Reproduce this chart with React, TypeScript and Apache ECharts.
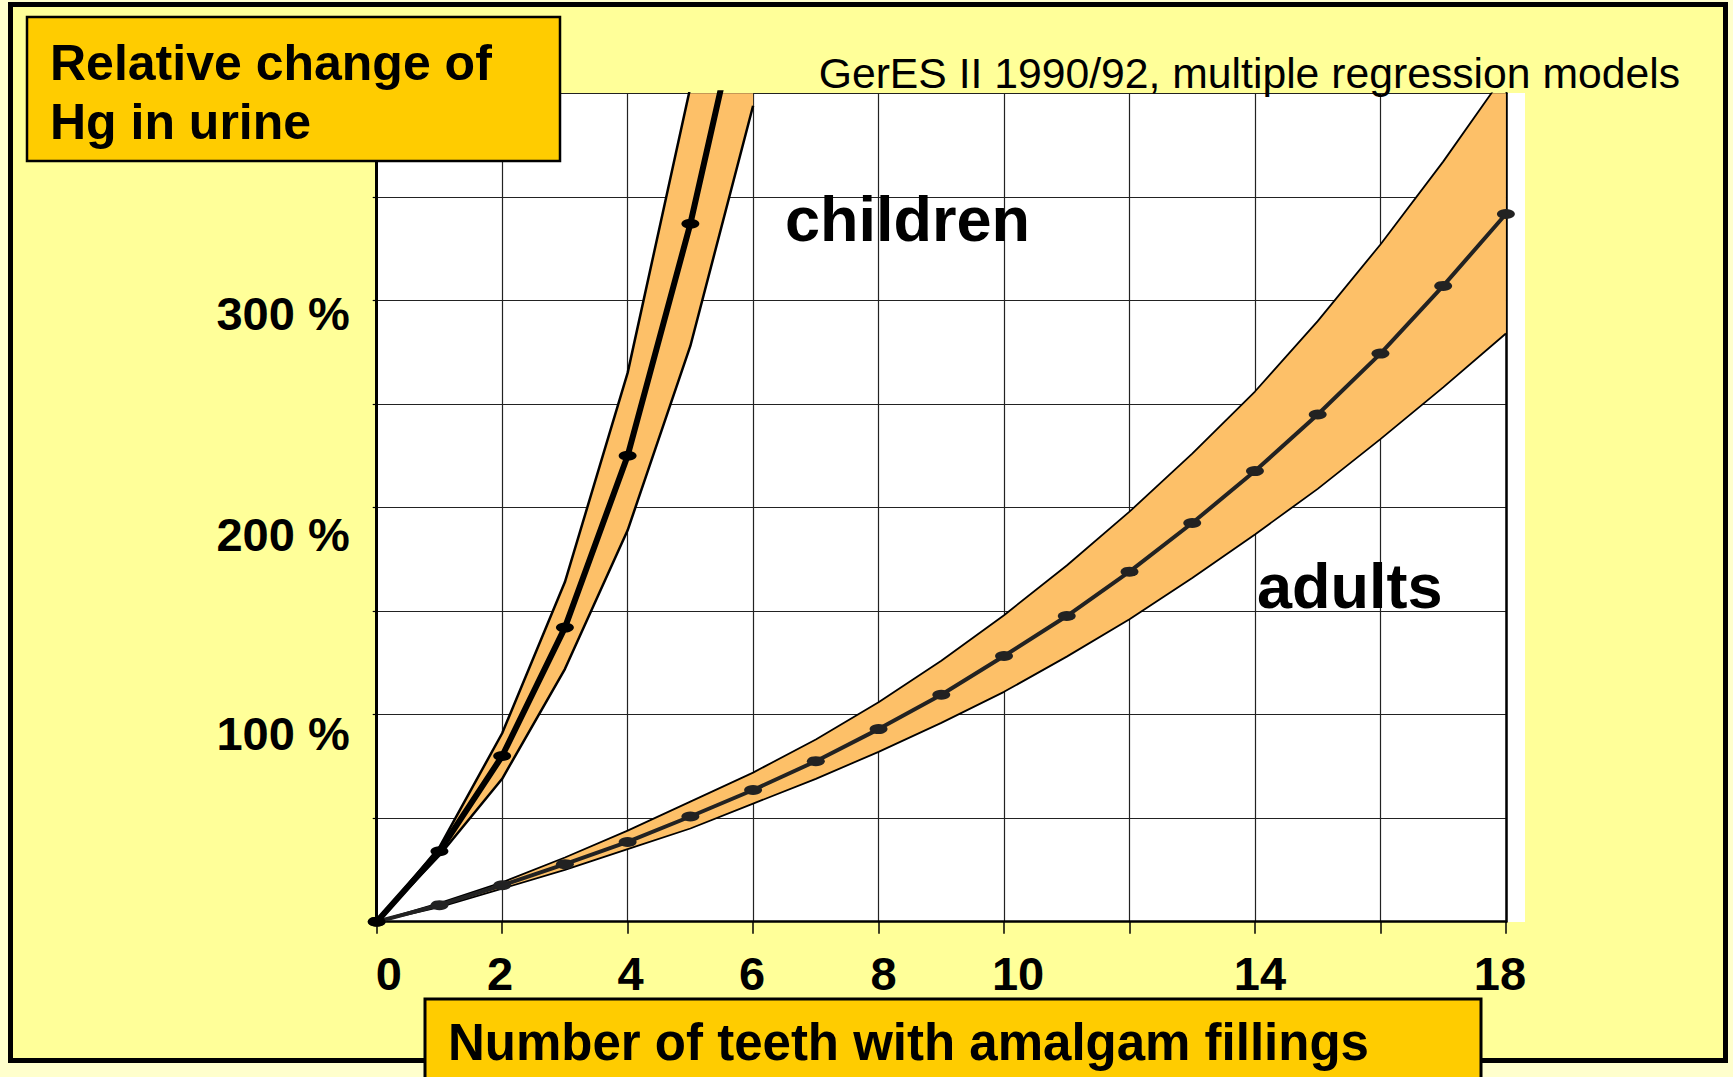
import React, { useEffect, useRef } from "react";
import * as echarts from "echarts";

// ---- data ----
const childX = [0, 1, 2, 3, 4, 5, 6];
const childCentral = [0, 34, 80, 142, 225, 337, 471];
const childUpper = [0, 36, 91, 164, 265, 403, 560];
const childLower = [0, 32, 69, 122, 189, 278, 394];

const adultX = [0, 1, 2, 3, 4, 5, 6, 7, 8, 9, 10, 11, 12, 13, 14, 15, 16, 17, 18];
const adultCentral = [0, 8, 17.6, 27.8, 38.5, 50.8, 63.6, 77.5, 93, 109.6, 128.3, 147.6, 169, 192.5, 217.6, 244.9, 274.3, 307, 341.7];
const adultUpper = [0, 9, 19, 31, 44, 58, 72, 88, 106, 126, 148, 172, 198, 226, 256, 290, 327, 367, 410];
const adultLower = [0, 7, 16, 25, 35, 45, 57, 69, 82, 96, 111, 128, 146, 166, 187, 209, 233, 258, 284];

const xTickLabels = [0, 2, 4, 6, 8, 10, 14, 18];
const yTickLabels = [100, 200, 300];

const titleText = "Relative change of\nHg in urine";
const subtitleText = "GerES II 1990/92, multiple regression models";
const xTitleText = "Number of teeth with amalgam fillings";
const childrenLabel = "children";
const adultsLabel = "adults";

// ---- styles ----
const FONT = "'Liberation Sans', Arial, Helvetica, sans-serif";
const BAND = "#FDC068";

// horizontal nudges of x labels (px), vertical nudges of y labels (px)
const xNudge: Record<number, number> = { 0: 12, 2: -2, 4: 3, 6: -1, 8: 5, 10: 14, 14: 5, 18: -6 };
const yNudge: Record<number, number> = { 100: 19, 200: 27, 300: 13 };

function pairs(xs: number[], ys: number[]) {
  return xs.map((x, i) => [x, ys[i]]);
}

function bandSeries(name: string, xs: number[], hi: number[], lo: number[], z: number) {
  return {
    name,
    type: "custom",
    clip: true,
    z,
    silent: true,
    data: [[xs[0], lo[0]]],
    renderItem: (_params: any, api: any) => {
      const top = xs.map((x, i) => api.coord([x, hi[i]]));
      const bottom = xs.map((x, i) => api.coord([x, lo[i]])).reverse();
      return {
        type: "polygon",
        shape: { points: top.concat(bottom) },
        style: { fill: BAND, stroke: null },
      };
    },
  };
}

function edgeSeries(name: string, xs: number[], ys: number[], width: number, z: number) {
  return {
    name,
    type: "line",
    data: pairs(xs, ys),
    symbol: "none",
    lineStyle: { color: "#000", width },
    z,
    silent: true,
  };
}

function buildOption() {
  const xRich: Record<string, any> = {};
  xTickLabels.forEach((v) => {
    const n = xNudge[v] || 0;
    xRich["x" + v] = {
      fontFamily: FONT,
      fontWeight: "bold",
      fontSize: 47,
      color: "#000",
      padding: n >= 0 ? [0, 0, 0, 2 * n] : [0, -2 * n, 0, 0],
    };
  });
  const yRich: Record<string, any> = {};
  yTickLabels.forEach((v) => {
    const n = yNudge[v] || 0;
    yRich["y" + v] = {
      fontFamily: FONT,
      fontWeight: "bold",
      fontSize: 47,
      color: "#000",
      padding: [2 * n, 0, 0, 0],
    };
  });

  const gridLine = { show: true, lineStyle: { color: "#222", width: 1.2 } };

  return {
    animation: false,
    backgroundColor: "transparent",
    grid: {
      left: 376.7,
      right: 227.1,
      top: 93.3,
      bottom: 155.3,
      show: true,
      backgroundColor: "#ffffff",
      borderWidth: 0,
      containLabel: false,
    },
    xAxis: {
      type: "value",
      min: 0,
      max: 18,
      interval: 2,
      axisLine: { show: true, onZero: false, lineStyle: { color: "#000", width: 2.5 } },
      axisTick: { show: true, length: 12, lineStyle: { color: "#000", width: 1.5 } },
      splitLine: gridLine,
      axisLabel: {
        margin: 28,
        fontFamily: FONT,
        fontWeight: "bold",
        fontSize: 47,
        color: "#000",
        formatter: (v: number) => (xTickLabels.indexOf(v) >= 0 ? `{x${v}|${v}}` : ""),
        rich: xRich,
      },
    },
    yAxis: [
      {
        type: "value",
        min: 0,
        max: 400,
        interval: 50,
        axisLine: { show: true, onZero: false, lineStyle: { color: "#000", width: 3 } },
        axisTick: { show: true, length: 4, lineStyle: { color: "#000", width: 1.2 } },
        splitLine: gridLine,
        axisLabel: {
          margin: 27,
          fontFamily: FONT,
          fontWeight: "bold",
          fontSize: 47,
          color: "#000",
          formatter: (v: number) => (yTickLabels.indexOf(v) >= 0 ? `{y${v}|${v} %}` : ""),
          rich: yRich,
        },
      },
      {
        type: "value",
        position: "right",
        min: 0,
        max: 400,
        interval: 50,
        axisLine: { show: true, onZero: false, lineStyle: { color: "#000", width: 2.5 } },
        axisTick: { show: false },
        axisLabel: { show: false },
        splitLine: { show: false },
      },
    ],
    series: [
      bandSeries("adults band", adultX, adultUpper, adultLower, 2),
      edgeSeries("adults upper", adultX, adultUpper, 1.8, 3),
      edgeSeries("adults lower", adultX, adultLower, 1.8, 3),
      bandSeries("children band", childX, childUpper, childLower, 4),
      edgeSeries("children upper", childX, childUpper, 2.5, 5),
      edgeSeries("children lower", childX, childLower, 2.5, 5),
      {
        name: "adults",
        type: "line",
        data: pairs(adultX, adultCentral),
        symbol: "circle",
        symbolSize: [18, 10],
        showAllSymbol: true,
        itemStyle: { color: "#222" },
        lineStyle: { color: "#222", width: 4 },
        z: 6,
      },
      {
        name: "children",
        type: "line",
        data: pairs(childX, childCentral),
        symbol: "circle",
        symbolSize: [18, 10],
        showAllSymbol: true,
        itemStyle: { color: "#000" },
        lineStyle: { color: "#000", width: 6 },
        z: 7,
      },
    ],
    graphic: [
      {
        type: "rect",
        z: 100,
        shape: { x: 27, y: 17, width: 533, height: 144 },
        style: { fill: "#FFCC00", stroke: "#000", lineWidth: 2.5 },
      },
      {
        type: "text",
        z: 101,
        x: 50,
        y: 92.3,
        style: {
          text: titleText,
          font: `bold 50px ${FONT}`,
          fill: "#000",
          align: "left",
          verticalAlign: "middle",
          lineHeight: 58.6,
        },
      },
      {
        type: "rect",
        z: 100,
        shape: { x: 425, y: 999, width: 1056, height: 110 },
        style: { fill: "#FFCC00", stroke: "#000", lineWidth: 3 },
      },
      {
        type: "text",
        z: 101,
        x: 448,
        y: 1042,
        style: {
          text: xTitleText,
          font: `bold 51px ${FONT}`,
          fill: "#000",
          align: "left",
          verticalAlign: "middle",
        },
      },
      {
        type: "text",
        z: 100,
        x: 1680,
        y: 73,
        style: {
          text: subtitleText,
          font: `42.7px ${FONT}`,
          fill: "#000",
          align: "right",
          verticalAlign: "middle",
        },
      },
      {
        type: "text",
        z: 100,
        x: 785,
        y: 219,
        style: {
          text: childrenLabel,
          font: `bold 63px ${FONT}`,
          fill: "#000",
          align: "left",
          verticalAlign: "middle",
        },
      },
      {
        type: "text",
        z: 100,
        x: 1257,
        y: 586,
        style: {
          text: adultsLabel,
          font: `bold 63px ${FONT}`,
          fill: "#000",
          align: "left",
          verticalAlign: "middle",
        },
      },
    ],
  };
}

export default function App() {
  const ref = useRef<HTMLDivElement>(null);
  useEffect(() => {
    document.body.style.margin = "0";
    const chart = echarts.init(ref.current as HTMLDivElement, null, { renderer: "svg" });
    chart.setOption(buildOption() as any);
    return () => {
      chart.dispose();
    };
  }, []);
  return (
    <div
      style={{
        position: "fixed",
        left: 0,
        top: 0,
        width: 1733,
        height: 1077,
        background: "#FFFFCC",
        overflow: "hidden",
      }}
    >
      <div
        style={{
          position: "absolute",
          left: 8,
          top: 2,
          width: 1710,
          height: 1051,
          border: "5px solid #000",
          background: "#FFFF99",
        }}
      />
      <div
        style={{
          position: "absolute",
          left: 1505,
          top: 93,
          width: 20,
          height: 829,
          background: "#ffffff",
        }}
      />
      <div ref={ref} style={{ position: "absolute", left: 0, top: 0, width: 1733, height: 1077 }} />
    </div>
  );
}
